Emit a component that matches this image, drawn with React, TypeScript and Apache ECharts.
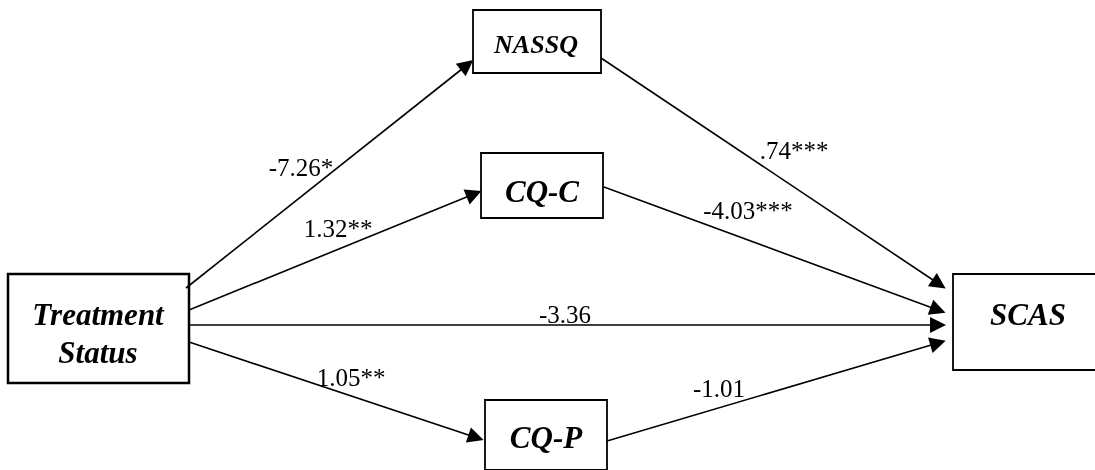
import React, { useEffect, useRef } from "react";
import * as echarts from "echarts";

// Boxes: name, [left, top, right, bottom], text centre, font size
const boxNames = ["NASSQ", "CQ-C", "Treatment\nStatus", "CQ-P", "SCAS"];
const boxRects = [
  [473, 10, 601, 73],
  [481, 153, 603, 218],
  [8, 274, 189, 383],
  [485, 400, 607, 470],
  [953, 274, 1096, 370],
];
const boxTextPos = [
  [536, 44],
  [542, 191],
  [98, 333],
  [546, 437],
  [1028, 314],
];
const boxFontSize = [26, 31, 31, 31, 31];

// Paths: start point -> end point (arrowhead centre)
const pathFrom = [
  [186, 288],
  [189, 310],
  [189, 325],
  [189, 342],
  [601, 58],
  [604, 187],
  [607, 441],
];
const pathTo = [
  [467, 65],
  [474, 194],
  [938, 325],
  [476, 437.5],
  [939, 284],
  [938, 310],
  [938, 343],
];

// Coefficient labels: text and centre position
const coefLabels = ["-7.26*", "1.32**", "-3.36", "1.05**", ".74***", "-4.03***", "-1.01"];
const coefPos = [
  [301, 167],
  [338, 228],
  [565, 314],
  [351, 377],
  [794, 150],
  [748, 210],
  [719, 388],
];

const SERIF = "Liberation Serif";

export default function App() {
  const ref = useRef<HTMLDivElement>(null);
  useEffect(() => {
    if (!ref.current) return;
    const chart = echarts.init(ref.current, null, { renderer: "svg" });
    const base: any = {
      animation: false,
      grid: { left: 0, right: 0, top: 0, bottom: 0 },
      xAxis: { type: "value", min: 0, max: 1095, show: false },
      yAxis: { type: "value", min: 0, max: 470, inverse: true, show: false },
      series: [
        {
          type: "custom",
          coordinateSystem: "cartesian2d",
          data: boxRects.map((r, i) => [...r, i]),
          renderItem: (params: any, api: any) => {
            const p0 = api.coord([api.value(0), api.value(1)]);
            const p1 = api.coord([api.value(2), api.value(3)]);
            const bw = api.value(4) === 2 ? 2.5 : 1.8;
            return {
              type: "rect",
              shape: { x: p0[0], y: p0[1], width: p1[0] - p0[0], height: p1[1] - p0[1] },
              style: { fill: "none", stroke: "#000", lineWidth: bw },
            };
          },
        },
        {
          type: "lines",
          coordinateSystem: "cartesian2d",
          symbol: ["none", "triangle"],
          symbolSize: [12, 16],
          lineStyle: { color: "#000", width: 1.6, opacity: 1, curveness: 0 },
          itemStyle: { color: "#000" },
          data: pathFrom.map((f, i) => ({ coords: [f, pathTo[i]] })),
        },
      ],
    };
    chart.setOption(base);
    const toPx = (p: number[]) => chart.convertToPixel({ gridIndex: 0 }, p) as number[];
    const boxTexts = boxNames.map((name, i) => {
      const p = toPx(boxTextPos[i]);
      return {
        type: "text",
        x: p[0],
        y: p[1],
        style: {
          text: name,
          fontFamily: SERIF,
          fontSize: boxFontSize[i],
          fontStyle: "italic",
          fontWeight: "bold",
          lineHeight: 38,
          fill: "#000",
          align: "center",
          verticalAlign: "middle",
        },
      };
    });
    const coefTexts = coefLabels.map((t, i) => {
      const p = toPx(coefPos[i]);
      return {
        type: "text",
        x: p[0],
        y: p[1],
        style: {
          text: t,
          fontFamily: SERIF,
          fontSize: 25,
          fill: "#000",
          align: "center",
          verticalAlign: "middle",
        },
      };
    });
    chart.clear();
    chart.setOption({ ...base, graphic: [...boxTexts, ...coefTexts] });
    return () => chart.dispose();
  }, []);
  return (
    <div
      ref={ref}
      style={{ position: "fixed", left: 0, top: 0, width: 1095, height: 470 }}
    />
  );
}
